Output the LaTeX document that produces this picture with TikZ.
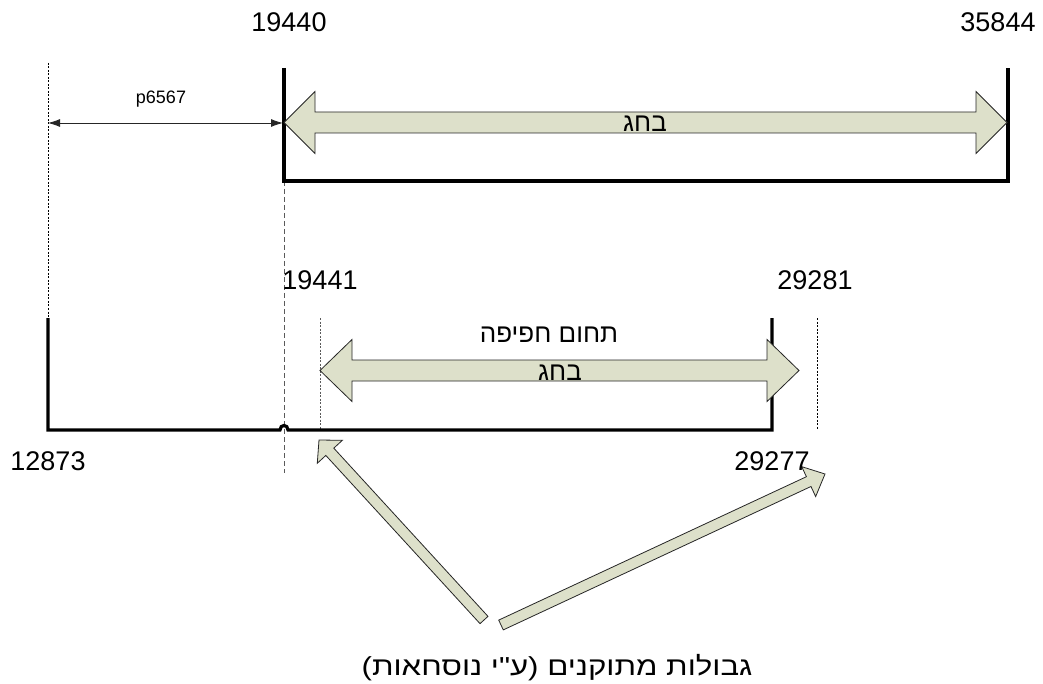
\documentclass[tikz,border=0pt]{standalone}
\usepackage{fontspec}
\setmainfont{Liberation Sans}
\newfontfamily\hebfont[Script=Hebrew]{Liberation Sans}
\TeXXeTstate=1
\usetikzlibrary{calc,arrows.meta}
\definecolor{blockfill}{RGB}{221,224,202}
\definecolor{dashgray}{RGB}{90,90,90}
\newcommand{\blockarr}[5]{% tail, tip, shaft half, head half, head length
  \coordinate (bah) at ($(#2)!#5!(#1)$);
  \filldraw[blockstyle] ($(#1)!#3!90:(#2)$) -- ($(bah)!#3!90:(#2)$) -- ($(bah)!#4!90:(#2)$) -- (#2)
    -- ($(bah)!#4!-90:(#2)$) -- ($(bah)!#3!-90:(#2)$) -- ($(#1)!#3!-90:(#2)$) -- cycle;
}
\newcommand{\dblarr}[5]{% left tip, right tip, shaft half, head half, head length
  \coordinate (dah1) at ($(#1)!#5!(#2)$);
  \coordinate (dah2) at ($(#2)!#5!(#1)$);
  \filldraw[blockstyle] (#1) -- ($(dah1)!#4!90:(#2)$) -- ($(dah1)!#3!90:(#2)$) -- ($(dah2)!#3!-90:(#1)$)
    -- ($(dah2)!#4!-90:(#1)$) -- (#2) -- ($(dah2)!#4!90:(#1)$) -- ($(dah2)!#3!90:(#1)$)
    -- ($(dah1)!#3!-90:(#2)$) -- ($(dah1)!#4!-90:(#2)$) -- cycle;
}
\begin{document}
\begin{tikzpicture}[x=1pt,y=-1pt,
  thickline/.style={line width=3.2pt, line join=miter},
  blockstyle/.style={fill=blockfill, draw=black!85, line width=0.8pt, line join=miter},
  numlabel/.style={font=\fontsize{27}{32}\selectfont, inner sep=0pt, anchor=base},
  heblabel/.style={font=\hebfont\fontsize{26}{31}\selectfont, inner sep=0pt, anchor=base},
  smalllabel/.style={font=\fontsize{18}{22}\selectfont, inner sep=0pt, anchor=base},
  finedash/.style={line width=0.8pt, dash pattern=on 2pt off 1.5pt},
  meddash/.style={line width=0.9pt, draw=dashgray, dash pattern=on 5pt off 3pt},
  dimarrow/.style={line width=0.9pt, draw=black!85, {Latex[length=12pt,width=8pt]}-{Latex[length=12pt,width=8pt]}}
]
\useasboundingbox (0,0) rectangle (1043,684);
\fill[white] (0,0) rectangle (1043,684);

% coordinates
\coordinate (tTL) at (284,68);
\coordinate (tBL) at (284,181);
\coordinate (tBR) at (1008,181);
\coordinate (tTR) at (1008,68);
\coordinate (bTL) at (48,318);
\coordinate (bBL) at (48,430);
\coordinate (bBR) at (772,430);
\coordinate (bTR) at (772,318);

% dashed guide lines
\draw[finedash] (48,63) -- (bTL);
\draw[meddash] (tBL) -- (284,473);
\draw[finedash, draw=dashgray] (320,318) -- (320,430);
\draw[finedash] (817,318) -- (817,430);

% dimension arrow
\coordinate (dimL) at (48,123);
\coordinate (dimR) at (283,123);
\draw[dimarrow] (dimL) -- (dimR);
\node[smalllabel] (p) at (161,104) {p6567};

% top bracket
\draw[thickline] (tTL) -- (tBL) -- (tBR) -- (tTR);
% bottom bracket with jump
\draw[thickline] (bTL) -- (bBL) -- (280,430) .. controls (280,424) and (288,424) .. (288,430) -- (bBR) -- (bTR);

% big double arrows
\coordinate (tA) at (284,122.5);
\coordinate (tB) at (1007,122.5);
\dblarr{tA}{tB}{10.5pt}{31pt}{31pt}
\coordinate (bA) at (320,370.5);
\coordinate (bB) at (799,370.5);
\dblarr{bA}{bB}{10.5pt}{31pt}{32pt}

% small block arrows
\coordinate (lTail) at (484,620);
\coordinate (lTip) at (319,440);
\blockarr{lTail}{lTip}{5.4pt}{17pt}{16pt}
\coordinate (rTail) at (501,625);
\coordinate (rTip) at (825,474);
\blockarr{rTail}{rTip}{5.4pt}{16.5pt}{18pt}

% number labels
\node[numlabel] (n19440) at (289,32) {19440};
\node[numlabel] (n35844) at (998,32) {35844};
\node[numlabel] (n19441) at (320,290) {19441};
\node[numlabel] (n29281) at (815,290) {29281};
\node[numlabel] (n12873) at (48,470) {12873};
\node[numlabel] (n29277) at (772,470) {29277};

% hebrew labels
\node[heblabel] (topbhg) at (645,132) {\beginR בחג\endR};
\node[heblabel] (overlap) at (549,342) {\beginR תחום חפיפה\endR};
\node[heblabel] (botbhg) at (560,380) {\beginR בחג\endR};
\node[heblabel] (bounds) at (557,675) {\scalebox{1.2}[1]{\beginR גבולות מתוקנים (ע"י נוסחאות)\endR}};
\end{tikzpicture}
\end{document}
